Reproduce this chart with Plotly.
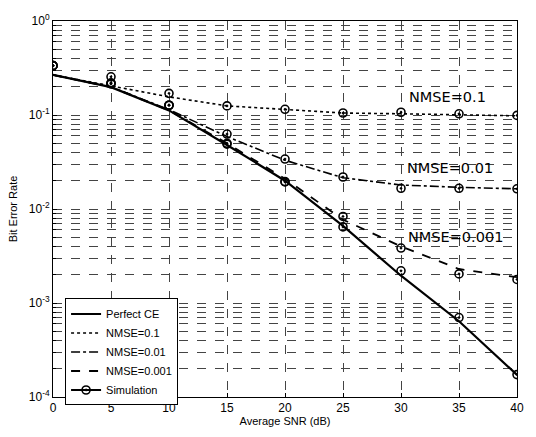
import math
import plotly.graph_objects as go

snr = [0, 5, 10, 15, 20, 25, 30, 35, 40]

# Analytical curves
perfect_ce = [0.267, 0.198, 0.112, 0.048, 0.0200, 0.0066, 0.00195, 0.00064, 0.000172]
nmse_01 = [0.267, 0.205, 0.156, 0.125, 0.114, 0.105, 0.103, 0.100, 0.098]
nmse_001 = [0.267, 0.199, 0.114, 0.059, 0.033, 0.0215, 0.0180, 0.0170, 0.0164]
nmse_0001 = [0.267, 0.198, 0.112, 0.050, 0.0210, 0.0077, 0.0040, 0.0023, 0.00188]

# Simulation points
sim_perfect = [0.335, 0.215, 0.127, 0.049, 0.0194, 0.00645, 0.0022, 0.00070, 0.000173]
sim_01 = [0.335, 0.255, 0.170, 0.125, 0.115, 0.105, 0.107, 0.103, 0.099]
sim_001 = [0.335, 0.22, 0.127, 0.0627, 0.034, 0.0219, 0.0166, 0.0166, 0.0164]
sim_0001 = [0.335, 0.215, 0.127, 0.050, 0.0196, 0.00833, 0.00384, 0.00204, 0.00178]

names = ["Perfect CE", "NMSE=0.1", "NMSE=0.01", "NMSE=0.001"]
curves = [perfect_ce, nmse_01, nmse_001, nmse_0001]
sims = [sim_perfect, sim_01, sim_001, sim_0001]
dashes = ["solid", "dot", "dashdot", "dash"]
widths = [2.2, 1.6, 1.6, 1.8]

ytick_vals = [1e-4, 1e-3, 1e-2, 1e-1, 1]
ytick_text = ["10<sup>-4</sup>", "10<sup>-3</sup>", "10<sup>-2</sup>", "10<sup>-1</sup>", "10<sup>0</sup>"]
xtick_vals = [0, 5, 10, 15, 20, 25, 30, 35, 40]

annotations_text = ["NMSE=0.1", "NMSE=0.01", "NMSE=0.001"]
annotations_x = [34.0, 34.2, 34.7]
annotations_y = [0.156, 0.0273, 0.0050]

fig = go.Figure()
for name, c, d, w in zip(names, curves, dashes, widths):
    fig.add_trace(go.Scatter(x=snr, y=c, mode="lines", name=name,
                             line=dict(color="black", dash=d, width=w)))
for s in sims:
    fig.add_trace(go.Scatter(x=snr, y=s, mode="markers", showlegend=False,
                             marker=dict(symbol="circle-open-dot", size=8, color="black",
                                         line=dict(width=1.6, color="black"))))
fig.add_trace(go.Scatter(x=[None], y=[None], mode="lines+markers", name="Simulation",
                         line=dict(color="black", width=2.2),
                         marker=dict(symbol="circle-open-dot", size=8, color="black",
                                     line=dict(width=1.6, color="black"))))

for t, ax, ay in zip(annotations_text, annotations_x, annotations_y):
    fig.add_annotation(x=ax, y=math.log10(ay), yref="y", xref="x", text=t, showarrow=False,
                       font=dict(family="DejaVu Sans", size=14.5, color="black"))

grid = dict(showgrid=True, gridcolor="#444", griddash="dash", gridwidth=1)
fig.update_xaxes(range=[0, 40], tickvals=xtick_vals, **grid,
                 showline=True, linecolor="black", linewidth=1, mirror=True,
                 ticks="inside", ticklen=4, tickcolor="black",
                 zeroline=False,
                 title=dict(text="Average SNR (dB)", standoff=2,
                            font=dict(family="Liberation Sans", size=11, color="black")),
                 tickfont=dict(family="Liberation Sans", size=12, color="black"))
fig.update_yaxes(type="log", range=[-4, 0], tickvals=ytick_vals, ticktext=ytick_text, **grid,
                 minor=dict(showgrid=True, gridcolor="#444", griddash="dash", gridwidth=1,
                            dtick="D1", ticks="inside", ticklen=3, tickcolor="black"),
                 showline=True, linecolor="black", linewidth=1, mirror=True,
                 ticks="inside", ticklen=4, tickcolor="black",
                 title=dict(text="Bit Error Rate", standoff=8,
                            font=dict(family="Liberation Sans", size=11, color="black")),
                 tickfont=dict(family="Liberation Sans", size=12, color="black"))

fig.update_layout(
    width=536, height=437,
    margin=dict(l=53, r=13, t=15, b=34),
    paper_bgcolor="white", plot_bgcolor="white",
    showlegend=True,
    legend=dict(x=0.026, y=0.262, xanchor="left", yanchor="top",
                bgcolor="white", bordercolor="black", borderwidth=1,
                font=dict(family="Liberation Sans", size=11, color="black"),
                itemwidth=30, tracegroupgap=0),
)

fig.write_html("out.html")
